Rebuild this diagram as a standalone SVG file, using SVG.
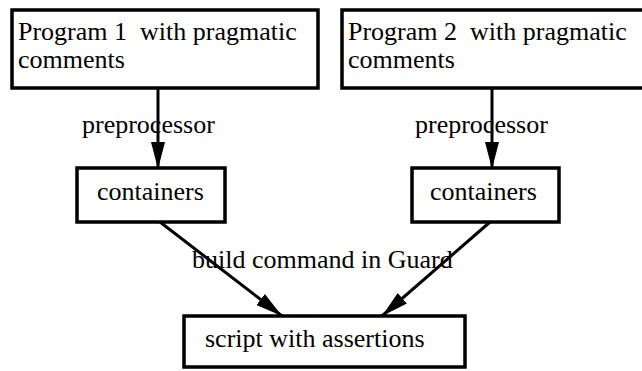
<svg xmlns="http://www.w3.org/2000/svg" width="642" height="371" viewBox="0 0 642 371">
<style>
.box{fill:#fff;stroke:#000;stroke-width:3.5}
.t{font-family:"Liberation Serif","Times New Roman",serif;font-size:26px;fill:#000;white-space:pre}
.e{stroke:#000;stroke-width:3;fill:none}
</style>
<defs>
<marker id="ah" markerUnits="userSpaceOnUse" markerWidth="28" markerHeight="16" refX="27" refY="8" orient="auto" viewBox="0 0 28 16">
<path d="M0,1 L27,8 L0,15 z" fill="#000"/>
</marker>
</defs>
<rect width="642" height="371" fill="#fff"/>
<g id="connectors">
<line class="e" x1="158" y1="88" x2="158" y2="169" marker-end="url(#ah)"/>
<line class="e" x1="492" y1="88" x2="492" y2="169" marker-end="url(#ah)"/>
<line class="e" x1="160" y1="222" x2="282" y2="316" marker-end="url(#ah)"/>
<line class="e" x1="490" y1="222" x2="382" y2="316" marker-end="url(#ah)"/>
<text class="t" x="82" y="133">preprocessor</text>
<text class="t" x="415" y="133">preprocessor</text>
<text class="t" x="192" y="268">build command in Guard</text>
</g>
<g id="prog1">
<rect class="box" x="12" y="10" width="306" height="78"/>
<text class="t" x="18" y="40" xml:space="preserve">Program 1  with pragmatic</text>
<text class="t" x="18" y="68">comments</text>
</g>
<g id="prog2">
<rect class="box" x="342" y="10" width="306" height="78"/>
<text class="t" x="348" y="40" xml:space="preserve">Program 2  with pragmatic</text>
<text class="t" x="348" y="68">comments</text>
</g>
<g id="cont1">
<rect class="box" x="77" y="168" width="148" height="54"/>
<text class="t" x="97" y="200">containers</text>
</g>
<g id="cont2">
<rect class="box" x="412" y="168" width="147" height="54"/>
<text class="t" x="430" y="200">containers</text>
</g>
<g id="script">
<rect class="box" x="184" y="316" width="281" height="51"/>
<text class="t" x="205" y="347">script with assertions</text>
</g>
</svg>
